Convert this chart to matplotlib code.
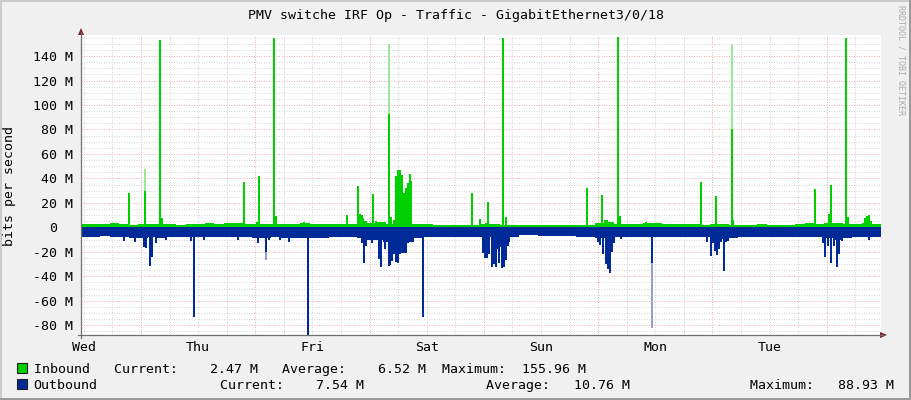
import numpy as np
import matplotlib
matplotlib.use("Agg")
import matplotlib.pyplot as plt
from matplotlib.patches import Rectangle, Polygon
from matplotlib.lines import Line2D
from matplotlib.transforms import blended_transform_factory

# ---------------- data ----------------
title = "PMV switche IRF Op - Traffic - GigabitEthernet3/0/18"
y_label = "bits per second"
day_labels = ["Wed", "Thu", "Fri", "Sat", "Sun", "Mon", "Tue"]
day_label_hours = [12, 36, 60, 84, 108, 132, 156]     # hours since Wed 00:00 (label at noon)
midnight_hours = [24, 48, 72, 96, 120, 144, 168]
t_start, t_end = 11.4, 179.4                           # visible time window (hours)
y_ticks = [-80, -60, -40, -20, 0, 20, 40, 60, 80, 100, 120, 140]
y_min, y_max = -87.9, 157.2                            # M bits/s

base_step = 2.0   # hours per base sample
# background traffic level (M bits/s), one value per 2 h
in_base = [2.5, 2.5, 3.0, 3.3, 2.5, 2.2, 2.4, 2.4, 2.6, 2.5, 2.2, 3.0,
           3.0, 3.6, 2.8, 3.2, 3.6, 3.0, 2.6, 3.0, 2.6, 2.4, 2.4, 3.8,
           2.6, 3.0, 2.6, 3.0, 3.0, 5.0, 3.2, 4.5, 2.5, 3.0, 3.0, 2.7,
           2.6, 2.0, 2.0, 2.0, 2.0, 2.0, 2.5, 2.5, 2.0, 2.0, 1.8, 1.8,
           1.8, 1.8, 1.8, 2.2, 2.0, 2.0, 3.3, 4.5, 2.5, 2.5, 2.8, 3.8,
           3.3, 2.8, 2.6, 2.4, 2.4, 2.2, 2.6, 2.6, 2.2, 2.2, 2.2, 2.6,
           2.2, 2.0, 2.2, 3.0, 3.6, 3.0, 3.2, 3.5, 2.8, 2.6, 4.0, 2.47]
out_base = [7.6, 7.8, 7.4, 7.6, 8.0, 8.4, 9.0, 8.0, 8.5, 8.0, 7.8, 8.0,
            8.2, 8.0, 7.8, 8.0, 7.8, 8.2, 8.6, 8.4, 8.0, 8.4, 8.6, 9.0,
            8.4, 8.6, 8.0, 8.0, 7.8, 9.0, 10.0, 10.0, 12.0, 14.0, 12.0, 8.5,
            8.2, 8.0, 8.0, 8.0, 7.6, 7.6, 8.0, 12.0, 12.0, 8.0, 6.4, 6.2,
            6.8, 6.8, 7.2, 7.0, 7.6, 7.6, 8.6, 10.0, 8.0, 7.6, 7.6, 7.6,
            7.8, 7.8, 7.6, 7.6, 7.6, 7.6, 8.6, 9.4, 8.4, 7.6, 7.6, 7.6,
            7.8, 7.6, 7.8, 7.6, 7.6, 7.6, 8.6, 10.0, 9.0, 8.0, 8.0, 7.54]

# short bursts (hour, M bits/s)
in_spike_t = [21.48, 24.84, 28.05, 28.4, 45.7, 48.3, 48.84, 52.0, 52.35, 58.3,
              67.26, 69.63, 70.0, 70.35, 70.6, 71.04, 72.78, 73.35, 76.0, 76.3,
              76.6, 77.07, 77.45, 77.87, 78.29, 78.71, 79.13, 79.55, 79.97, 80.39,
              80.6, 93.5, 95.2, 96.45, 96.93, 100.08, 100.55, 117.72, 120.87, 121.44,
              121.86, 124.1, 124.5, 130.05, 141.66, 144.81, 148.1, 148.4, 165.6, 168.5,
              168.96, 172.1, 172.47, 176.04, 176.46, 176.88, 177.3]
in_spike_v = [27.8, 30.0, 153.0, 7.7, 37.0, 4.5, 42.0, 155.0, 9.6, 4.8,
              10.0, 33.8, 10.6, 10.0, 7.5, 5.5, 27.3, 5.0, 93.0, 8.8,
              8.8, 5.7, 42.0, 47.0, 47.0, 43.0, 28.0, 32.0, 36.0, 44.0,
              38.0, 27.8, 6.9, 4.0, 20.8, 155.0, 8.8, 32.0, 26.5, 6.4,
              6.4, 155.96, 9.6, 4.5, 37.0, 25.7, 80.0, 5.7, 31.0, 11.3,
              34.7, 155.0, 8.2, 8.0, 9.0, 9.9, 5.0]
in_faint_t = [24.84, 76.0, 148.1]
in_faint_v = [48.0, 150.0, 150.0]

out_spike_t = [20.43, 22.74, 24.63, 25.05, 25.95, 26.31, 27.15, 29.25, 34.5, 35.19,
               37.3, 44.37, 48.47, 50.25, 50.88, 53.2, 55.08, 59.13, 70.4, 70.83,
               71.25, 72.5, 73.98, 74.46, 75.0, 75.34, 76.0, 76.3, 76.7, 77.13,
               77.55, 77.97, 78.39, 78.81, 79.23, 79.65, 80.07, 80.49, 83.2, 95.8,
               96.2, 96.6, 97.0, 97.7, 98.1, 98.55, 98.97, 99.28, 99.6, 99.9,
               100.2, 100.65, 101.07, 119.97, 120.4, 121.0, 121.65, 122.07, 122.49, 122.9,
               123.3, 124.8, 131.3, 142.86, 143.7, 144.12, 144.54, 144.9, 145.44, 145.8,
               146.4, 146.85, 147.35, 167.2, 167.7, 168.3, 168.96, 169.5, 170.16, 170.5,
               171.2, 176.9]
out_spike_v = [10.8, 11.6, 15.7, 17.0, 31.3, 24.0, 13.0, 10.0, 11.0, 73.5,
               10.0, 10.6, 12.4, 20.0, 10.0, 10.6, 11.6, 88.93, 13.0, 29.4,
               15.0, 13.0, 26.0, 32.6, 12.0, 18.0, 31.6, 31.0, 27.7, 22.0,
               28.0, 29.0, 22.0, 21.0, 21.0, 21.0, 13.0, 9.0, 73.5, 21.0,
               25.0, 25.3, 22.0, 32.0, 30.0, 32.0, 18.0, 29.4, 16.0, 33.0,
               32.0, 27.0, 15.0, 12.0, 14.0, 22.0, 30.0, 34.0, 37.0, 20.0,
               13.0, 9.5, 29.0, 11.6, 23.4, 13.0, 19.0, 22.6, 18.0, 12.0,
               35.3, 12.0, 11.0, 13.0, 24.0, 15.0, 28.8, 15.0, 32.0, 22.0,
               11.0, 10.0]
out_faint_t = [50.25, 131.3]
out_faint_v = [27.0, 82.0]

in_stats = ["2.47 M", "6.52 M", "155.96 M"]
out_stats = ["7.54 M", "10.76 M", "88.93 M"]

# ---------------- styling ----------------
W, H = 911, 400
GREEN = "#00CF00"
GREEN_FAINT = "#9BE89B"
BLUE = "#002A97"
BLUE_FAINT = "#8E9FD2"
MONO = "DejaVu Sans Mono"
FS = 9.5

def fx(px):
    return px / W

def fy(py):
    return 1 - py / H

fig = plt.figure(figsize=(W / 100, H / 100), dpi=100, facecolor="#F0F0F0")
ax = fig.add_axes([fx(81), fy(335), 800 / W, 300 / H])
ax.set_facecolor("white")
ax.set_xlim(t_start, t_end)
ax.set_ylim(y_min, y_max)
for s in ax.spines.values():
    s.set_visible(False)
ax.tick_params(length=0)
ax.set_yticks([])

# grid
GRAY_GRID = "#D6D6D6"
RED_GRID = "#EBB0B0"
for h in np.arange(12, t_end, 6):
    if h % 24:
        ax.axvline(h, color=GRAY_GRID, lw=0.72, dashes=(1, 1.5), zorder=0.5)
for v in np.arange(-85, 156, 5):
    if v % 20:
        ax.axhline(v, color=GRAY_GRID, lw=0.72, dashes=(1, 1.5), zorder=0.5)
for h in midnight_hours:
    ax.axvline(h, color=RED_GRID, lw=0.72, dashes=(1, 1.5), zorder=0.6)
for v in y_ticks:
    ax.axhline(v, color=RED_GRID, lw=0.72, dashes=(1, 1.5), zorder=0.6)

# data
edges = t_start + base_step * np.arange(len(in_base) + 1)
ax.stairs(np.array(in_base), edges, baseline=0, fill=True, color=GREEN, zorder=2)
ax.stairs(-np.array(out_base), edges, baseline=0, fill=True, color=BLUE, zorder=2)
bw = 0.42
ax.bar(in_faint_t, in_faint_v, width=bw, color=GREEN_FAINT, linewidth=0, zorder=2)
ax.bar(in_spike_t, in_spike_v, width=bw, color=GREEN, linewidth=0, zorder=3)
ax.bar(out_faint_t, -np.array(out_faint_v), width=bw, color=BLUE_FAINT, linewidth=0, zorder=2)
ax.bar(out_spike_t, -np.array(out_spike_v), width=bw, color=BLUE, linewidth=0, zorder=3)

# x tick labels
ax.set_xticks(day_label_hours, day_labels)
ax.tick_params(axis="x", pad=4)
for lbl in ax.get_xticklabels():
    lbl.set_fontfamily(MONO)
    lbl.set_fontsize(FS)

# y tick labels
ytr = blended_transform_factory(fig.transFigure, ax.transData)
for v in y_ticks:
    if v == 0:
        ax.text(fx(57), v, "0", transform=ytr, ha="right", va="center_baseline",
                family=MONO, fontsize=FS)
    else:
        ax.text(fx(73), v, f"{v} M", transform=ytr, ha="right", va="center_baseline",
                family=MONO, fontsize=FS)

# axes lines and arrows
ARROW = "#7F1F1F"
AXC = "#707070"
fig.add_artist(Line2D([fx(81), fx(81)], [fy(338), fy(32)], color=AXC, lw=0.9))
fig.add_artist(Line2D([fx(78), fx(883)], [fy(335), fy(335)], color=AXC, lw=0.9))
fig.add_artist(Polygon([[fx(81), fy(28)], [fx(78), fy(35)], [fx(84), fy(35)]],
                       closed=True, transform=fig.transFigure, fc=ARROW, ec="none"))
fig.add_artist(Polygon([[fx(887), fy(335)], [fx(880), fy(332)], [fx(880), fy(338)]],
                       closed=True, transform=fig.transFigure, fc=ARROW, ec="none"))

# texts
fig.text(fx(455.5), fy(14.5), title, ha="center", va="center_baseline", family=MONO, fontsize=FS)
fig.text(fx(10), fy(186), y_label, rotation=90, ha="center", va="center", family=MONO, fontsize=FS)
fig.text(fx(901), fy(5), "RRDTOOL / TOBI OETIKER", rotation=270, ha="center", va="top",
         family=MONO, fontsize=6.0, color="#ABABAB")

# legend
fig.add_artist(Rectangle((fx(17), fy(373)), 10 / W, 10 / H, transform=fig.transFigure,
                         fc=GREEN, ec="#202020", lw=0.8))
fig.add_artist(Rectangle((fx(17), fy(389)), 10 / W, 10 / H, transform=fig.transFigure,
                         fc=BLUE, ec="#202020", lw=0.8))
line1 = ("Inbound   Current:" + in_stats[0].rjust(10) + "   Average:" + in_stats[1].rjust(10)
         + "  Maximum:" + in_stats[2].rjust(10))
fig.text(fx(33.7), fy(368), line1, ha="left", va="center_baseline", family=MONO, fontsize=FS)
fig.text(fx(33.7), fy(384), "Outbound", ha="left", va="center_baseline", family=MONO, fontsize=FS)
fig.text(fx(219.8), fy(384), "Current:" + out_stats[0].rjust(10), ha="left", va="center_baseline",
         family=MONO, fontsize=FS)
fig.text(fx(485.5), fy(384), "Average:" + out_stats[1].rjust(10), ha="left", va="center_baseline",
         family=MONO, fontsize=FS)
fig.text(fx(750), fy(384), "Maximum:" + out_stats[2].rjust(10), ha="left", va="center_baseline",
         family=MONO, fontsize=FS)

# frame shading
fig.add_artist(Line2D([0, 1], [fy(1), fy(1)], color="#CBCBCB", lw=1.44))
fig.add_artist(Line2D([fx(1), fx(1)], [0, 1], color="#CBCBCB", lw=1.44))
fig.add_artist(Line2D([0, 1], [fy(399), fy(399)], color="#999999", lw=1.44))
fig.add_artist(Line2D([fx(910), fx(910)], [0, 1], color="#999999", lw=1.44))

fig.savefig("out.png", dpi=100, facecolor=fig.get_facecolor())
